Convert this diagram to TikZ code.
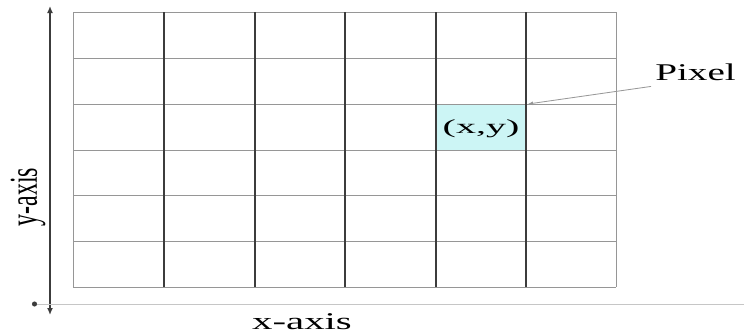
\documentclass[tikz,border=0pt]{standalone}
\usepackage{fontspec}
\setmainfont{Liberation Serif}
\usetikzlibrary{arrows.meta}
\definecolor{cGrid}{RGB}{150,150,150}
\definecolor{cLine}{RGB}{60,60,60}
\definecolor{cPix}{RGB}{204,245,245}

\begin{document}
\begin{tikzpicture}[x=1pt,y=-1pt,
  hline/.style={cGrid,line width=1pt},
  vline/.style={cLine,line width=1.1pt},
  lbl/.style={inner sep=0pt,font=\fontsize{24}{28}\selectfont}]
\useasboundingbox (0,0) rectangle (744,335);
% highlighted pixel
\fill[cPix] (436,104) rectangle (526,150);
% rows
\draw[hline] (73,12) -- (616,12);
\draw[hline] (73,58) -- (616,58);
\draw[hline] (73,104) -- (616,104);
\draw[hline] (73,150) -- (616,150);
\draw[hline] (73,195) -- (616,195);
\draw[hline] (73,241) -- (616,241);
\draw[hline] (73,287) -- (616,287);
% columns
\draw[hline] (73,12) -- (73,287);
\draw[vline] (164,12) -- (164,287);
\draw[vline] (255,12) -- (255,287);
\draw[vline] (345,12) -- (345,287);
\draw[vline] (436,12) -- (436,287);
\draw[vline] (526,12) -- (526,287);
\draw[hline] (616,12) -- (616,287);
% axes
\coordinate (ytop) at (50,6);
\coordinate (ybot) at (50,315);
\draw[cLine,line width=1.4pt,{Latex[length=7pt,width=6pt]}-{Latex[length=7pt,width=6pt]}] (ybot) -- (ytop);
\coordinate (xleft) at (32,304);
\coordinate (xright) at (744,304);
\draw[gray!45,line width=1pt,{Circle[length=5pt,color=cLine]}-] (xleft) -- (xright);
\node[lbl,xscale=1.7] (xlab) at (302,322) {x-axis};
\node[lbl,xscale=1.65,rotate=90] (ylab) at (28,197) {y-axis};
% labels
\node[lbl,font=\fontsize{20}{24}\selectfont,xscale=2] (xy) at (481,129) {(x,y)};
\node[lbl,xscale=1.63,anchor=base west] (pix) at (655,80) {Pixel};
\coordinate (corner) at (528,104);
\draw[cGrid,line width=0.8pt,-{Latex[length=5pt,width=4pt]}] ([xshift=-4pt,yshift=-6pt]pix.south west) -- (corner);
\end{tikzpicture}
\end{document}
